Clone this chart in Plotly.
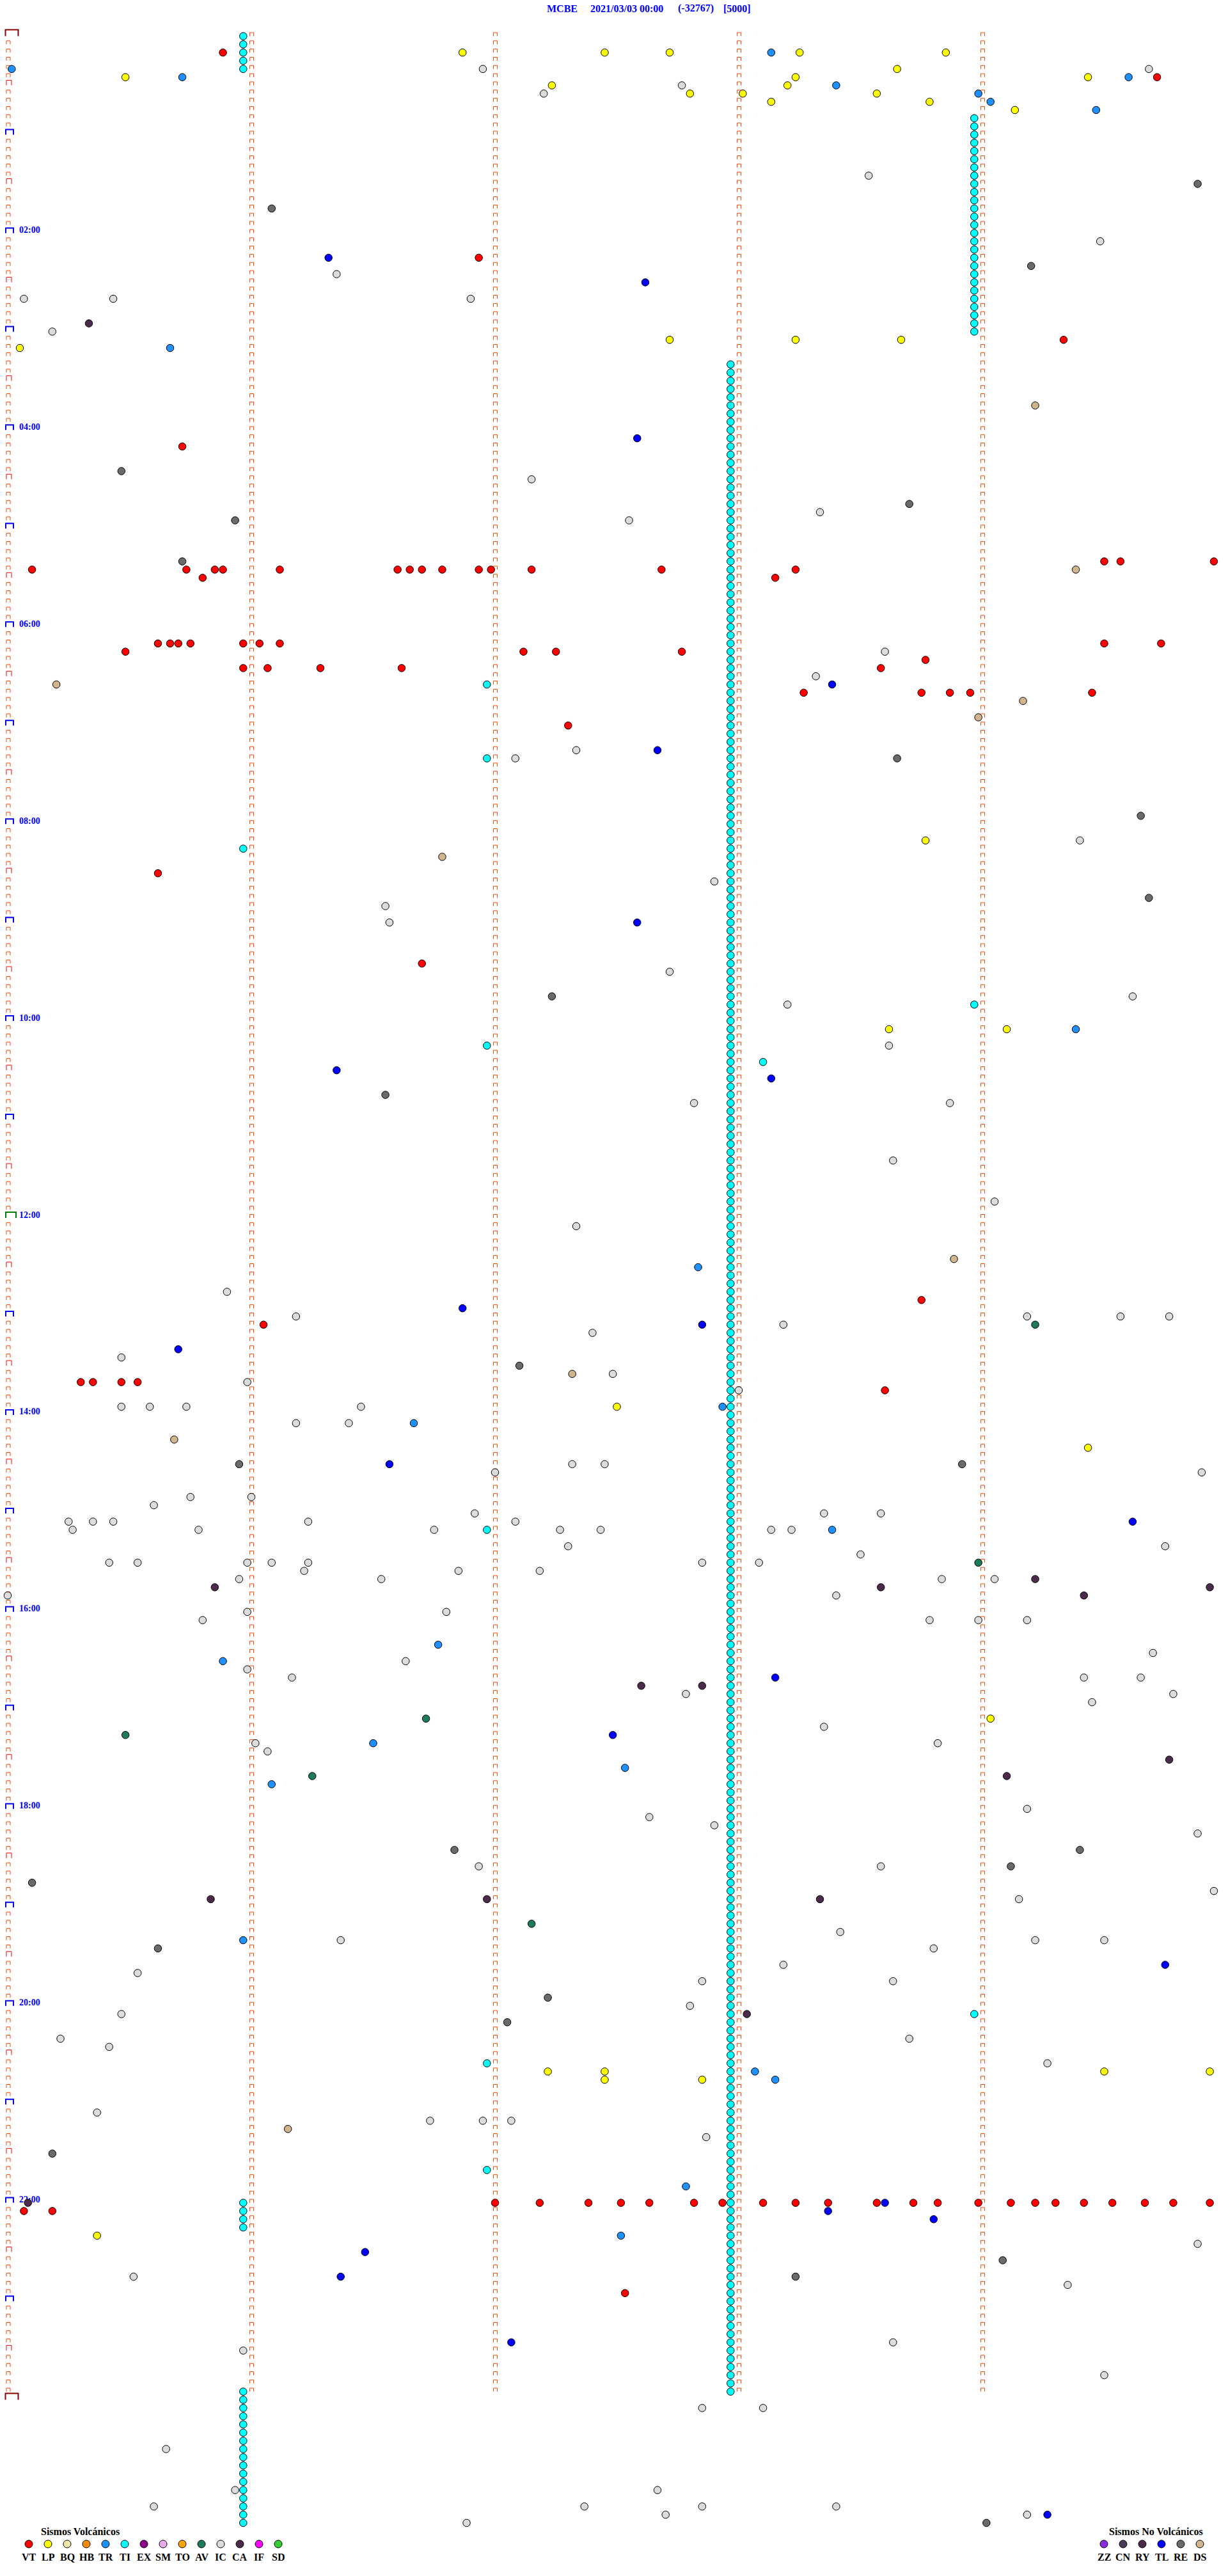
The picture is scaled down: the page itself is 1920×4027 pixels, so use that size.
import plotly.graph_objects as go

# ---------------------------------------------------------------------------
# DATA  (slot = index of the 5-minute row counted from 00:00,
#        sec  = seconds into that 5-minute row)
# ---------------------------------------------------------------------------
STATION = "MCBE"
DATE = "2021/03/03 00:00"
CLIP = "(-32767)"
SCALE = "[5000]"
HOUR_LABELS = ["02:00", "04:00", "06:00", "08:00", "10:00", "12:00",
               "14:00", "16:00", "18:00", "20:00", "22:00"]
HOUR_LABEL_HOURS = [2, 4, 6, 8, 10, 12, 14, 16, 18, 20, 22]

VOLC_CODES = ["VT", "LP", "BQ", "HB", "TR", "TI", "EX", "SM", "TO", "AV", "IC", "CA", "IF", "SD"]
NOVOLC_CODES = ["ZZ", "CN", "RY", "TL", "RE", "DS"]

VT = [(2, 53), (5, 283), (27, 116), (37, 260), (50, 43),
      (64, 270), (64, 274), (64, 297),
      (65, 6), (65, 44), (65, 51), (65, 53), (65, 67), (65, 96), (65, 99), (65, 102), (65, 107),
      (65, 116), (65, 119), (65, 129), (65, 161), (65, 194),
      (66, 48), (66, 189),
      (74, 37), (74, 40), (74, 42), (74, 45), (74, 58), (74, 62), (74, 67), (74, 270), (74, 284),
      (75, 29), (75, 127), (75, 135), (75, 166), (76, 226),
      (77, 58), (77, 64), (77, 77), (77, 97), (77, 215),
      (80, 196), (80, 225), (80, 232), (80, 237), (80, 267),
      (84, 138), (102, 37), (113, 102), (154, 225), (157, 63),
      (164, 18), (164, 21), (164, 28), (164, 32), (165, 216),
      (264, 120), (264, 131), (264, 143), (264, 151), (264, 158), (264, 169), (264, 176), (264, 186),
      (264, 194), (264, 202), (264, 214), (264, 223), (264, 229), (264, 239), (264, 247),
      (264, 253), (264, 258), (264, 265), (264, 272), (264, 280), (264, 287), (264, 296),
      (265, 4), (265, 11), (275, 152)]

LP = [(2, 112), (2, 147), (2, 163), (2, 195), (2, 231), (4, 219), (5, 29), (5, 194), (5, 266),
      (6, 134), (6, 192), (7, 168), (7, 181), (7, 214), (8, 188), (8, 227), (9, 248),
      (37, 163), (37, 194), (37, 220), (38, 3), (98, 226), (121, 217), (121, 246), (167, 150),
      (172, 266), (205, 242), (248, 133), (248, 147), (249, 147), (249, 171), (248, 270),
      (248, 296), (268, 22)]

TR = [(2, 188), (4, 1), (5, 43), (5, 276), (6, 204), (7, 239), (8, 242), (9, 268), (38, 40),
      (121, 263), (150, 170), (167, 176), (169, 100), (182, 203), (196, 106), (198, 53),
      (208, 90), (211, 152), (213, 65), (232, 58), (248, 184), (249, 189), (262, 167), (268, 151)]

TL = [(27, 79), (30, 157), (49, 155), (79, 203), (87, 160), (108, 155), (126, 81), (127, 188),
      (155, 112), (157, 171), (160, 42), (174, 94), (181, 277), (200, 189), (207, 149),
      (235, 285), (264, 216), (265, 202), (266, 228), (270, 88), (273, 82), (281, 124), (302, 256)]

RE = [(18, 293), (21, 65), (28, 252), (53, 28), (57, 222), (59, 56), (64, 43), (88, 219),
      (95, 279), (105, 281), (117, 134), (129, 93), (162, 126), (174, 57), (174, 235),
      (221, 110), (221, 264), (223, 247), (225, 6), (233, 37), (239, 133), (242, 123),
      (258, 11), (271, 245), (273, 194), (303, 241)]

CA = [(35, 20), (188, 253), (189, 51), (189, 215), (189, 296), (190, 265), (201, 156),
      (201, 171), (210, 286), (212, 246), (227, 50), (227, 118), (227, 200), (241, 182), (264, 5)]

DS = [(45, 253), (65, 263), (79, 12), (81, 250), (83, 239), (100, 107), (149, 233),
      (163, 139), (171, 41), (255, 69)]

AV = [(157, 253), (186, 239), (205, 103), (207, 29), (212, 75), (230, 129)]

# tremor (TI) – runs of consecutive rows, each listed explicitly
TI_A_SEC = 58
TI_A_SLOTS = [0, 1, 2, 3, 4, 264, 265, 266, 267,
              287, 288, 289, 290, 291, 292, 293, 294, 295, 296, 297, 298, 299, 300, 301, 302, 303]
TI_D_SEC = 238
TI_D_SLOTS = [10, 11, 12, 13, 14, 15, 16, 17, 18, 19, 20, 21, 22, 23, 24, 25, 26, 27, 28, 29,
              30, 31, 32, 33, 34, 35, 36]
TI_C_SEC = 178
TI_C_SLOTS = [40, 41, 42, 43, 44, 45, 46, 47, 48, 49, 50, 51, 52, 53, 54, 55, 56, 57, 58, 59,
              60, 61, 62, 63, 64, 65, 66, 67, 68, 69, 70, 71, 72, 73, 74, 75, 76, 77, 78, 79,
              80, 81, 82, 83, 84, 85, 86, 87, 88, 89, 90, 91, 92, 93, 94, 95, 96, 97, 98, 99,
              100, 101, 102, 103, 104, 105, 106, 107, 108, 109, 110, 111, 112, 113, 114, 115, 116, 117, 118, 119,
              120, 121, 122, 123, 124, 125, 126, 127, 128, 129, 130, 131, 132, 133, 134, 135, 136, 137, 138, 139,
              140, 141, 142, 143, 144, 145, 146, 147, 148, 149, 150, 151, 152, 153, 154, 155, 156, 157, 158, 159,
              160, 161, 162, 163, 164, 165, 166, 167, 168, 169, 170, 171, 172, 173, 174, 175, 176, 177, 178, 179,
              180, 181, 182, 183, 184, 185, 186, 187, 188, 189, 190, 191, 192, 193, 194, 195, 196, 197, 198, 199,
              200, 201, 202, 203, 204, 205, 206, 207, 208, 209, 210, 211, 212, 213, 214, 215, 216, 217, 218, 219,
              220, 221, 222, 223, 224, 225, 226, 227, 228, 229, 230, 231, 232, 233, 234, 235, 236, 237, 238, 239,
              240, 241, 242, 243, 244, 245, 246, 247, 248, 249, 250, 251, 252, 253, 254, 255, 256, 257, 258, 259,
              260, 261, 262, 263, 264, 265, 266, 267, 268, 269, 270, 271, 272, 273, 274, 275, 276, 277, 278, 279,
              280, 281, 282, 283, 284, 285, 286, 287]
TI_SINGLE = [(79, 118), (88, 118), (99, 58), (118, 238), (123, 118), (125, 186), (182, 118),
             (241, 238), (247, 118), (260, 118)]

IC = [(4, 117), (4, 281), (7, 132), (6, 166), (17, 212), (25, 269), (29, 81), (32, 4), (32, 26),
      (32, 114), (36, 11), (54, 129), (58, 200), (59, 153), (75, 216), (78, 199), (87, 140),
      (88, 125), (98, 264), (103, 174), (106, 93), (108, 94), (114, 163), (117, 277), (118, 192),
      (123, 217), (130, 169), (130, 232), (137, 218), (142, 243), (145, 140), (153, 54), (156, 71),
      (158, 144), (157, 191), (156, 251), (156, 274), (156, 286), (161, 28), (163, 149), (164, 59),
      (165, 180), (167, 28), (167, 35), (167, 44), (169, 71), (169, 84), (167, 87), (175, 120),
      (174, 139), (174, 147), (175, 294), (178, 60), (179, 36), (178, 45), (181, 15), (182, 16),
      (181, 21), (181, 26), (182, 47), (181, 74), (182, 105), (180, 115), (181, 125), (182, 136),
      (182, 146), (184, 138), (182, 188), (182, 193), (180, 201), (180, 215), (184, 285), (186, 25),
      (186, 32), (186, 59), (186, 65), (186, 74), (187, 73), (188, 57), (188, 92), (187, 111),
      (187, 131), (186, 171), (186, 185), (185, 210), (188, 243), (188, 230), (190, 0), (190, 204),
      (192, 59), (192, 108), (193, 227), (193, 239), (193, 251), (193, 48), (197, 282), (198, 98),
      (199, 59), (200, 70), (202, 167), (200, 265), (200, 279), (203, 267), (202, 287), (206, 201),
      (208, 61), (209, 64), (208, 229), (217, 158), (218, 174), (216, 251), (219, 293), (223, 116),
      (223, 215), (227, 249), (226, 297), (231, 205), (232, 82), (232, 253), (232, 270), (233, 228),
      (236, 32), (235, 191), (237, 171), (237, 218), (240, 168), (241, 28), (244, 222), (244, 13),
      (245, 25), (247, 256), (253, 22), (254, 104), (254, 117), (254, 124), (256, 172), (269, 293),
      (273, 31), (274, 261), (281, 218), (282, 58), (285, 270), (289, 171), (289, 186), (294, 39),
      (299, 56), (301, 36), (299, 160), (301, 142), (302, 162), (301, 171), (301, 204), (303, 113),
      (302, 251)]

COLORS = {
    "VT": "#FF0000", "LP": "#FFFF00", "BQ": "#F3E6AA", "HB": "#FF8C00", "TR": "#1E90FF",
    "TI": "#00FFFF", "EX": "#8B008B", "SM": "#EEAAEE", "TO": "#FFA500", "AV": "#1F7A5C",
    "IC": "#DCDCDC", "CA": "#4B2A4B", "IF": "#FF00FF", "SD": "#32CD32",
    "ZZ": "#8A2BE2", "CN": "#4A3A5A", "RY": "#4B2B4B", "TL": "#0000FF", "RE": "#6A6A6A",
    "DS": "#D2B48C",
}

# ---------------------------------------------------------------------------
# GEOMETRY (pixel layout of the drum)
# ---------------------------------------------------------------------------
W, H = 1920, 4027
X0, KX = 12.0, 381.0 / 60.0      # px of second 0, px per second
Y0, KY = 56.5, 12.83             # px of row 0 centre, px per row
N_ROWS = 288
FONT = "Liberation Serif"


def px2x(p):
    return (p - X0) / KX


def px2y(p):
    return (p - Y0) / KY


fig = go.Figure()


def add_brackets(items, color, width):
    xs, ys = [], []
    for left_px, slot, wpx, hpx in items:
        L, R = px2x(left_px), px2x(left_px + wpx)
        B, T = slot, slot - hpx / KY
        xs += [L, L, R, R, None]
        ys += [B, T, T, B, None]
    fig.add_trace(go.Scatter(x=xs, y=ys, mode="lines", line=dict(color=color, width=width),
                             hoverinfo="skip", showlegend=False))


small, half, hour, noon, day = [], [], [], [], []
for s in range(N_ROWS + 1):
    if s in (0, N_ROWS):
        day.append((8.5, s, 20, 10))
    elif s == N_ROWS // 2:
        noon.append((9, s, 16, 9))
    elif s % 12 == 0:
        hour.append((9, s, 12, 8))
    elif s % 6 == 0:
        half.append((10, s, 8, 8))
    else:
        small.append((10, s, 6, 5.5))
for k in range(1, 5):
    for s in range(N_ROWS):
        small.append((X0 + KX * 60 * k - 2.5, s, 6, 5.5))

add_brackets(small, "#FF4500", 1)
add_brackets(half, "#FF0000", 1)
add_brackets(hour, "#0000FF", 2)
add_brackets(noon, "#008000", 2)
add_brackets(day, "#8B0000", 2)

# hour labels
fig.add_trace(go.Scatter(
    x=[px2x(30)] * len(HOUR_LABELS),
    y=[h * 12 - 4 / KY for h in HOUR_LABEL_HOURS],
    text=["<b>%s</b>" % t for t in HOUR_LABELS], mode="text", textposition="middle right",
    textfont=dict(family=FONT, size=14, color="#0000FF"), hoverinfo="skip", showlegend=False))


def add_dots(pairs, code):
    fig.add_trace(go.Scatter(
        x=[p[1] for p in pairs], y=[p[0] for p in pairs], mode="markers",
        marker=dict(size=11.5, color=COLORS[code], line=dict(color="#000000", width=1)),
        name=code, showlegend=False, hovertemplate=code + "<extra></extra>"))


TI = ([(s, TI_A_SEC) for s in TI_A_SLOTS] + [(s, TI_D_SEC) for s in TI_D_SLOTS]
      + [(s, TI_C_SEC) for s in TI_C_SLOTS] + TI_SINGLE)

add_dots(IC, "IC")
add_dots(TI, "TI")
add_dots(DS, "DS")
add_dots(AV, "AV")
add_dots(RE, "RE")
add_dots(CA, "CA")
add_dots(TL, "TL")
add_dots(TR, "TR")
add_dots(LP, "LP")
add_dots(VT, "VT")

# legend rows
def legend(codes, x_first_px, title, title_x_px):
    xs = [px2x(x_first_px + 30 * i) for i in range(len(codes))]
    fig.add_trace(go.Scatter(
        x=xs, y=[px2y(3977)] * len(codes), mode="markers",
        marker=dict(size=12, color=[COLORS[c] for c in codes], line=dict(color="#000000", width=1)),
        hoverinfo="skip", showlegend=False))
    for x, c in zip(xs, codes):
        fig.add_annotation(x=x, y=px2y(3997), text="<b>%s</b>" % c, showarrow=False,
                           xanchor="center", yanchor="middle",
                           font=dict(family=FONT, size=16, color="#000000"))
    fig.add_annotation(x=px2x(title_x_px), y=px2y(3957), text="<b>%s</b>" % title, showarrow=False,
                       xanchor="left", yanchor="middle",
                       font=dict(family=FONT, size=16, color="#000000"))


legend(VOLC_CODES, 45, "Sismos Volcánicos", 62)
legend(NOVOLC_CODES, 1726, "Sismos No Volcánicos", 1732)

# header
for txt, xp in [(STATION, 853), (DATE, 921), (CLIP, 1058), (SCALE, 1129)]:
    fig.add_annotation(x=px2x(xp), y=px2y(13), text="<b>%s</b>" % txt, showarrow=False,
                       xanchor="left", yanchor="middle",
                       font=dict(family=FONT, size=16, color="#0000FF"))

fig.update_layout(
    width=W, height=H, margin=dict(l=0, r=0, t=0, b=0, pad=0),
    paper_bgcolor="#FFFFFF", plot_bgcolor="#FFFFFF", showlegend=False,
    xaxis=dict(range=[px2x(0), px2x(W)], visible=False, showgrid=False, zeroline=False, fixedrange=True),
    yaxis=dict(range=[px2y(H), px2y(0)], visible=False, showgrid=False, zeroline=False, fixedrange=True),
)

fig.write_html("out.html", config={"displayModeBar": False},
               post_script="document.body.style.margin='0px';")
